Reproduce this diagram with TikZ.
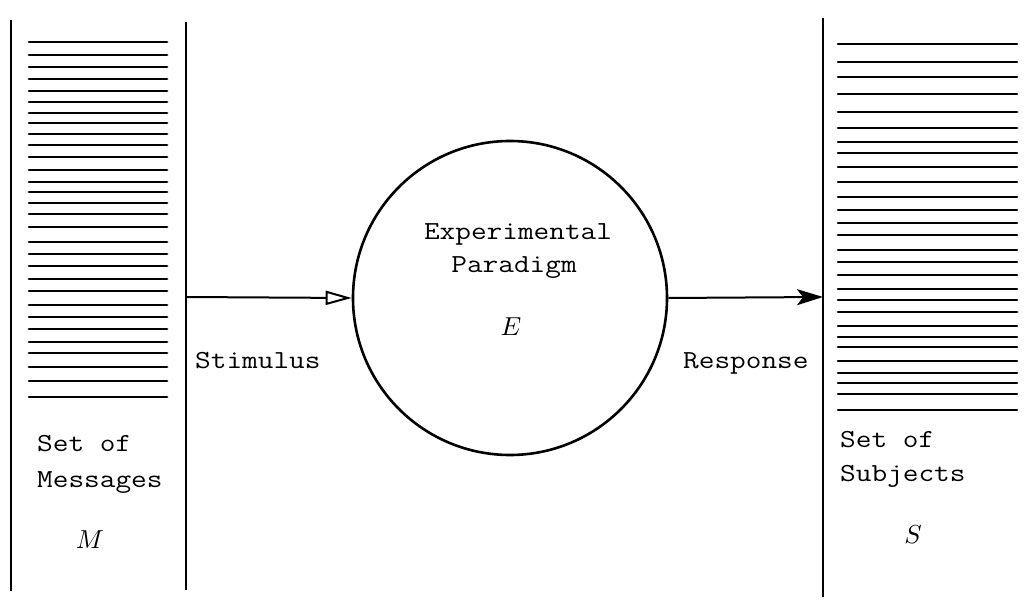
\documentclass[tikz,border=0pt]{standalone}
\usetikzlibrary{arrows.meta}
\newcommand{\tw}[1]{\scalebox{1.17}[1]{\fontsize{26}{30}\selectfont\ttfamily #1}}
\newcommand{\mi}[1]{\scalebox{2.6}{$#1$}}
\tikzset{
  rule/.style={line width=2.7pt, line cap=round},
  bar/.style={line width=2.8pt},
  lbl/.style={inner sep=0pt, anchor=base west},
  lblc/.style={inner sep=0pt, anchor=base},
  conn/.style={line width=2pt},
}
\begin{document}
\begin{tikzpicture}[x=1pt,y=-1pt]
\useasboundingbox (0,0) rectangle (1031,601);
% left panel
\coordinate (lt1) at (11,20); \coordinate (lb1) at (11,591);
\coordinate (lt2) at (186,22); \coordinate (lb2) at (186,590);
\draw[bar] (lt1) -- (lb1);
\draw[bar] (lt2) -- (lb2);
\foreach \y in {42,55,67,79,91,102,113,123,134,145,157,170,182,192,203,214,227,242,254,266,279,291,305,317,329,342,353,367,381,397}
  \draw[rule] (29,\y) -- (167,\y);
% right panel
\coordinate (rt) at (823,18); \coordinate (rb) at (823,597);
\draw[bar] (rt) -- (rb);
\foreach \y in {44,62,77,94,112,128,142,153,167,182,197,210,223,235,250,262,275,289,300,312,326,337,347,361,373,383,394,410}
  \draw[rule] (838,\y) -- (1017,\y);
% circle
\node[draw, circle, line width=2.6pt, minimum size=314pt, inner sep=0pt] (E) at (510,298) {};
% connectors
\coordinate (mr) at (186,297);
\coordinate (sl) at (823,297);
\draw[conn, -{Triangle[open, length=26pt, width=14pt, line width=2pt]}] (mr) -- (E.west);
\draw[conn, -{Stealth[length=26pt, width=16pt, inset=6pt]}] (E.east) -- (sl);
% texts
\node[lbl] (t1) at (37,452) {\tw{Set of}};
\node[lbl] (t2) at (37,487) {\tw{Messages}};
\node[lblc] (tm) at (90,548) {\mi{M}};
\node[lbl] (t3) at (840,447) {\tw{Set of}};
\node[lbl] (t4) at (840,482) {\tw{Subjects}};
\node[lblc] (ts) at (913,543) {\mi{S}};
\node[lbl] (t5) at (195,369) {\tw{Stimulus}};
\node[lbl] (t6) at (683,369) {\tw{Response}};
\node[lblc] (t7) at (518,240) {\tw{Experimental}};
\node[lblc] (t8) at (514,273) {\tw{Paradigm}};
\node[lblc] (te) at (511,336) {\mi{E}};
\end{tikzpicture}
\end{document}
